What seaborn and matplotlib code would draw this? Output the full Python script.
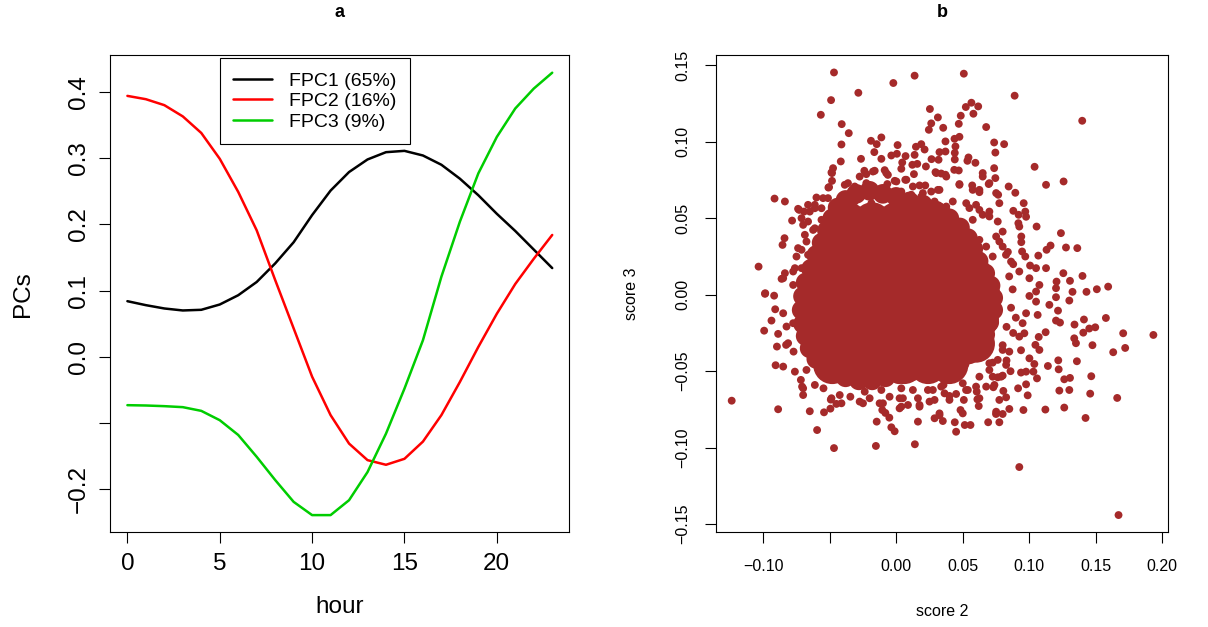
import matplotlib
matplotlib.use("Agg")
import matplotlib.pyplot as plt
import numpy as np
import pandas as pd
import seaborn as sns

# ---------------- data: panel a ----------------
hours = list(range(24))
fpc1 = [0.084, 0.078, 0.073, 0.070, 0.071, 0.079, 0.093, 0.113, 0.141, 0.173,
        0.214, 0.251, 0.279, 0.298, 0.309, 0.311, 0.304, 0.290, 0.269, 0.244,
        0.216, 0.190, 0.162, 0.134]
fpc2 = [0.394, 0.389, 0.380, 0.363, 0.338, 0.299, 0.249, 0.191, 0.116, 0.043,
        -0.030, -0.088, -0.131, -0.156, -0.163, -0.154, -0.128, -0.088, -0.038, 0.015,
        0.065, 0.110, 0.148, 0.184]
fpc3 = [-0.073, -0.0735, -0.0745, -0.076, -0.0816, -0.0957, -0.118, -0.151, -0.186, -0.219,
        -0.239, -0.239, -0.2165, -0.174, -0.116, -0.048, 0.025, 0.121, 0.204, 0.277,
        0.332, 0.375, 0.405, 0.429]
labels = ["FPC1 (65%)", "FPC2 (16%)", "FPC3 (9%)"]
colors = ["#000000", "#FF0000", "#00CD00"]
xticks_a = [0, 5, 10, 15, 20]
yticks_a = [-0.2, -0.1, 0.0, 0.1, 0.2, 0.3, 0.4]
yticklabels_a = ["\u22120.2", "", "0.0", "0.1", "0.2", "0.3", "0.4"]

# ---------------- data: panel b ----------------
# dense core of the point cloud (solid region, read as clusters)
core2 = [-0.036, -0.018, 0.0, 0.018, 0.030,
         -0.046, -0.028, -0.010, 0.008, 0.026, 0.046,
         -0.050, -0.032, -0.014, 0.004, 0.022, 0.040, 0.056,
         -0.060, -0.042, -0.024, -0.006, 0.012, 0.030, 0.048, 0.064,
         -0.061, -0.043, -0.025, -0.007, 0.011, 0.029, 0.047, 0.063,
         -0.057, -0.039, -0.021, -0.003, 0.015, 0.033, 0.050, 0.060,
         -0.048, -0.030, -0.012, 0.006, 0.024, 0.040]
core3 = [0.048, 0.048, 0.048, 0.048, 0.048,
         0.032, 0.032, 0.032, 0.032, 0.032, 0.032,
         0.016, 0.016, 0.016, 0.016, 0.016, 0.016, 0.016,
         0.0, 0.0, 0.0, 0.0, 0.0, 0.0, 0.0, 0.0,
         -0.016, -0.016, -0.016, -0.016, -0.016, -0.016, -0.016, -0.016,
         -0.032, -0.032, -0.032, -0.032, -0.032, -0.032, -0.032, -0.032,
         -0.046, -0.046, -0.046, -0.046, -0.046, -0.046]

# edge of the solid region
rim2 = [-0.030, -0.020, -0.010, 0.000, 0.010, 0.020, 0.030, 0.040,
        0.048, 0.054, 0.058, 0.062, 0.067, 0.071, 0.073, 0.073, 0.070, 0.067, 0.062, 0.055, 0.048,
        0.042, 0.032, 0.022, 0.012, 0.002, -0.008, -0.018, -0.028, -0.038, -0.046,
        -0.054, -0.060, -0.065, -0.068, -0.070, -0.071, -0.070, -0.068, -0.064, -0.060,
        -0.056, -0.052, -0.048, -0.044, -0.038]
rim3 = [0.066, 0.068, 0.066, 0.064, 0.061, 0.059, 0.055, 0.050,
        0.044, 0.037, 0.030, 0.022, 0.014, 0.006, -0.002, -0.010, -0.018, -0.026, -0.033, -0.039, -0.044,
        -0.046, -0.048, -0.049, -0.050, -0.052, -0.054, -0.056, -0.056, -0.054, -0.051,
        -0.047, -0.042, -0.035, -0.027, -0.019, -0.010, -0.001, 0.008, 0.017, 0.026,
        0.034, 0.042, 0.050, 0.057, 0.062]

# individual points around the core
score2 = [
    -0.0467, 0.0139, -0.0021, -0.0284, -0.0489, -0.0566, 0.0254, 0.0314, 0.0264, 0.0246,
    0.0354, -0.0409, -0.0356, -0.0411, -0.0416, -0.0189, -0.0111, -0.0146, -0.0164, 0.0011,
    -0.0111, -0.0264, -0.0036, 0.0006, 0.0071, 0.0149, 0.0189, 0.0214, 0.0139, 0.0159,
    0.0122, 0.0046, 0.0039, -0.0161, -0.0086, 0.0266, 0.0326, 0.0319, 0.0224, -0.0474,
    -0.0482, -0.0482, -0.0509, -0.0239, -0.0224, -0.0062, -0.0011, -0.0066, 0.0069, 0.0134,
    0.0176, 0.0219, 0.0296, 0.0339, 0.0314, -0.0914, -0.0836, -0.0737, -0.0782, -0.0839,
    -0.0854, -0.1034, -0.0984, -0.0917, -0.0599, -0.0611, -0.0692, -0.0662, -0.0749, -0.0761,
    -0.0836, -0.0861,
    -0.0386, -0.0311, -0.0224, -0.0137, -0.0062, 0.0039, 0.0114, 0.0189, 0.0264, -0.0512,
    -0.0411, -0.0311, -0.0186, -0.0011, 0.0139, 0.0289, -0.0561, -0.0662, -0.0711, -0.0611,
    -0.0686, -0.0737, -0.0662, -0.0711, -0.0686,
    0.0509, 0.0891, 0.1399, 0.0524, 0.0566, 0.0617, 0.0581, 0.0486, 0.0471, 0.0677,
    0.0439, 0.0476, 0.0446, 0.0441, 0.0441, 0.0371, 0.0371, 0.0737, 0.0812, 0.0746,
    0.0544, 0.0596, 0.0536, 0.0737, 0.0746, 0.0651, 0.0696, 0.1041, 0.1127, 0.1259,
    0.0437, 0.0471, 0.0371, 0.0476, 0.0572, 0.0626, 0.0576, 0.0767, 0.0846, 0.0896,
    0.0959, 0.0881, 0.0921, 0.0971, 0.0977, 0.0919, 0.0926, 0.1056, 0.1239, 0.1277,
    0.1362, 0.1161, 0.1131, 0.1069, 0.0941, 0.0941, 0.0947, 0.0971, 0.1007, 0.1052,
    0.1127, 0.1257, 0.1401, 0.1307, 0.1206, 0.1202, 0.1326, 0.1431, 0.1509, 0.1594,
    0.1002, 0.1077, 0.1052, 0.0926, 0.0864, 0.0826, 0.0776, 0.0801, 0.0764, 0.0701,
    0.0651, 0.0601, 0.0551,
    -0.1236, -0.0887, -0.0594, -0.0467, -0.0152, 0.0141, -0.0649, -0.0542, -0.0494, -0.0491,
    -0.0146, -0.0081, -0.0104, -0.0051, -0.0036, -0.0011, 0.0164, 0.0176, 0.0089, 0.0026,
    0.0051, 0.0164, 0.0289, 0.0326, 0.0351, -0.0986, -0.0909, -0.0937, -0.0992, -0.0887,
    -0.0896, -0.0827, -0.0906, -0.0849, -0.0771, -0.0761, -0.0716, -0.0707, -0.0699, -0.0611,
    -0.0546, -0.0424, -0.0344, -0.0411, -0.0449, -0.0249, -0.0199, -0.0099, 0.0039, 0.0239,
    0.0364, 0.0289, -0.0111, -0.0236, 0.0039,
    0.1672, 0.0926, 0.1934, 0.1707, 0.1722, 0.1632, 0.1662, 0.1577, 0.1476, 0.1497,
    0.1452, 0.1407, 0.1412, 0.1341, 0.1359, 0.1467, 0.1459, 0.1424, 0.1307, 0.1264,
    0.1302, 0.1227, 0.1264, 0.1122, 0.0957, 0.1219, 0.1222, 0.1141, 0.1077, 0.1047,
    0.1072, 0.1124, 0.1339, 0.1352, 0.1202, 0.1232, 0.1217, 0.1152, 0.1052, 0.1002,
    0.1202, 0.1302, 0.0939, 0.1002, 0.1039, 0.0939, 0.0977, 0.1032, 0.1059, 0.0977,
    0.0917, 0.0989, 0.0806, 0.0827, 0.0851, 0.0751, 0.0801, 0.0776, 0.0692, 0.0731,
    0.0801, 0.0606, 0.0621, 0.0611, 0.0484, 0.0509, 0.0451, 0.0441, 0.0451, 0.0516,
    0.0559, 0.0764, 0.0827, 0.0926, 0.0964, 0.0951, 0.0977, 0.1064, 0.0851, 0.0401,
    0.0356, 0.0401, 0.0501, 0.0601, 0.0526, 0.0626, 0.0701, 0.0726, 0.0876, 0.0864,
    0.0830, 0.0801,
    -0.0774, -0.0849, -0.0774, -0.0724, -0.0611, -0.0549, -0.0504, -0.0486, -0.0729, -0.0649,
    -0.0699, -0.0624, -0.0674, -0.0711, -0.0649, -0.0561, -0.0499, -0.0362, -0.0274, -0.0224,
    -0.0174,
    -0.0074, 0.0002, 0.0077, 0.0126, 0.0302, 0.0377, 0.0476, 0.0626, 0.0701, 0.0752,
    0.0651, 0.0426, 0.0527, 0.0626, 0.0701, 0.0776, 0.0576, 0.0752, 0.0677, 0.0626,
    0.0726, 0.0801, 0.0527, 0.0201, 0.0326, 0.0251, 0.0377,
    -0.0849, -0.0824, -0.0774, -0.0812, -0.0674, -0.0699, -0.0486, -0.0274,
    -0.0124, -0.0049, 0.0026, 0.0176, 0.0251, 0.0339, 0.0401, 0.0539, 0.0626, 0.0677,
    0.0739, 0.0726, 0.0789, 0.0701, 0.0764, 0.0801, 0.0776, 0.0501, 0.0752, 0.0326,
    0.0201, 0.0126, 0.0276,
    0.0850, 0.0880, 0.0840, 0.0900, 0.0880, 0.0830, 0.0860,
]
score3 = [
    0.1454, 0.1433, 0.1385, 0.1321, 0.1273, 0.1177, 0.1215, 0.1160, 0.1121, 0.1079,
    0.1092, 0.1116, 0.1057, 0.0983, 0.0872, 0.1007, 0.1029, 0.0985, 0.0933, 0.0979,
    0.0889, 0.0889, 0.0911, 0.0922, 0.0907, 0.0968, 0.0985, 0.0950, 0.0915, 0.0856,
    0.0850, 0.0865, 0.0824, 0.0811, 0.0815, 0.0887, 0.0933, 0.0883, 0.0839, 0.0828,
    0.0796, 0.0745, 0.0701, 0.0811, 0.0789, 0.0784, 0.0745, 0.0724, 0.0752, 0.0789,
    0.0715, 0.0715, 0.0802, 0.0793, 0.0686, 0.0629, 0.0610, 0.0562, 0.0485, 0.0370,
    0.0326, 0.0184, 0.0010, -0.0006, 0.0636, 0.0566, 0.0544, 0.0479, 0.0250, 0.0174,
    0.0141, 0.0104,
    0.0719, 0.0708, 0.0697, 0.0675, 0.0665, 0.0675, 0.0654, 0.0642, 0.0675, 0.0632,
    0.0610, 0.0610, 0.0599, 0.0610, 0.0599, 0.0610, 0.0566, 0.0588, 0.0501, 0.0435,
    0.0392, 0.0305, 0.0261, 0.0174, 0.0108,
    0.1446, 0.1302, 0.1138, 0.1228, 0.1256, 0.1232, 0.1184, 0.1171, 0.1118, 0.1097,
    0.1020, 0.1033, 0.0970, 0.0928, 0.0885, 0.1003, 0.0937, 0.0996, 0.0985, 0.0930,
    0.0898, 0.0863, 0.0876, 0.0828, 0.0763, 0.0773, 0.0724, 0.0837, 0.0719, 0.0741,
    0.0817, 0.0813, 0.0785, 0.0724, 0.0715, 0.0671, 0.0686, 0.0654, 0.0708, 0.0667,
    0.0599, 0.0549, 0.0523, 0.0544, 0.0510, 0.0468, 0.0446, 0.0446, 0.0403, 0.0309,
    0.0305, 0.0322, 0.0294, 0.0256, 0.0381, 0.0344, 0.0283, 0.0250, 0.0191, 0.0174,
    0.0174, 0.0141, 0.0123, 0.0091, 0.0086, 0.0043, 0.0019, 0.0019, 0.0036, 0.0053,
    0.0108, 0.0064, 0.0021, 0.0152, 0.0217, 0.0261, 0.0348, 0.0413, 0.0479, 0.0544,
    0.0523, 0.0588, 0.0567,
    -0.0693, -0.0749, -0.0885, -0.1003, -0.0989, -0.0978, -0.0762, -0.0769, -0.0745, -0.0686,
    -0.0830, -0.0773, -0.0754, -0.0804, -0.0867, -0.0893, -0.0830, -0.0732, -0.0721, -0.0743,
    -0.0677, -0.0677, -0.0808, -0.0788, -0.0826, 0.0006, -0.0095, -0.0169, -0.0235, -0.0256,
    -0.0339, -0.0328, -0.0461, -0.0470, -0.0372, -0.0503, -0.0557, -0.0601, -0.0656, -0.0590,
    -0.0612, -0.0656, -0.0667, -0.0710, -0.0714, -0.0710, -0.0677, -0.0710, -0.0732, -0.0623,
    -0.0645, -0.0688, -0.0623, -0.0634, -0.0612,
    -0.1441, -0.1127, -0.0263, -0.0252, -0.0348, -0.0376, -0.0675, -0.0152, -0.0330, -0.0213,
    -0.0221, -0.0248, -0.0162, -0.0195, -0.0435, -0.0533, -0.0647, -0.0806, -0.0544, -0.0553,
    -0.0623, -0.0627, -0.0738, -0.0751, -0.0754, -0.0429, -0.0488, -0.0466, -0.0361, -0.0328,
    -0.0276, -0.0245, -0.0285, -0.0317, -0.0169, -0.0182, -0.0104, -0.0066, -0.0045, -0.0008,
    -0.0016, -0.0038, -0.0363, -0.0416, -0.0453, -0.0509, -0.0503, -0.0503, -0.0547, -0.0586,
    -0.0612, -0.0658, -0.0629, -0.0671, -0.0747, -0.0780, -0.0780, -0.0834, -0.0834, -0.0605,
    -0.0529, -0.0634, -0.0728, -0.0684, -0.0754, -0.0688, -0.0649, -0.0834, -0.0896, -0.0852,
    -0.0852, -0.0540, -0.0459, -0.0274, -0.0252, -0.0186, -0.0121, -0.0132, -0.0372, -0.0531,
    -0.0590, -0.0662, -0.0579, -0.0601, -0.0623, -0.0536, -0.0492, -0.0444, 0.0035, -0.0085,
    -0.0210, -0.0330,
    0.0152, 0.0108, 0.0064, 0.0010, 0.0588, 0.0632, 0.0704, 0.0800, 0.0555, 0.0544,
    0.0457, 0.0424, 0.0348, 0.0294, 0.0184, 0.0490, 0.0523, 0.0730, 0.0773, 0.0730,
    0.0806,
    0.0796, 0.0741, 0.0752, 0.0708, 0.0796, 0.0773, 0.0719, 0.0686, 0.0730, 0.0665,
    0.0796, 0.0610, 0.0599, 0.0555, 0.0512, 0.0599, 0.0490, 0.0381, 0.0315, 0.0359,
    0.0250, 0.0315, 0.0359, 0.0665, 0.0686, 0.0577, 0.0577,
    -0.0121, -0.0208, -0.0186, -0.0317, -0.0492, -0.0612, -0.0677, -0.0699,
    -0.0710, -0.0667, -0.0677, -0.0721, -0.0699, -0.0601, -0.0688, -0.0623, -0.0677, -0.0601,
    -0.0590, -0.0536, -0.0536, -0.0448, -0.0426, -0.0361, -0.0688, -0.0776, -0.0765, -0.0776,
    -0.0514, -0.0623, -0.0623,
    0.0120, 0.0200, 0.0280, -0.0150, -0.0250, -0.0430, -0.0500,
]
xticks_b = [-0.10, -0.05, 0.00, 0.05, 0.10, 0.15, 0.20]
xticklabels_b = ["\u22120.10", "", "0.00", "0.05", "0.10", "0.15", "0.20"]
yticks_b = [-0.15, -0.10, -0.05, 0.00, 0.05, 0.10, 0.15]
yticklabels_b = ["\u22120.15", "\u22120.10", "\u22120.05", "0.00", "0.05", "0.10", "0.15"]
point_color = "#A52A2A"

# ---------------- style ----------------
sns.set_theme(style="ticks")
plt.rcParams["font.family"] = ["Liberation Sans", "DejaVu Sans"]
plt.rcParams.update({
    "axes.edgecolor": "black",
    "axes.linewidth": 0.8,
    "xtick.color": "black",
    "ytick.color": "black",
    "xtick.major.size": 8,
    "ytick.major.size": 8,
    "xtick.major.width": 0.8,
    "ytick.major.width": 0.8,
    "text.color": "black",
    "axes.labelcolor": "black",
})

fig = plt.figure(figsize=(12.08, 6.27), dpi=100)
ax1 = fig.add_axes([0.0914, 0.1510, 0.3798, 0.7605])
ax2 = fig.add_axes([0.5925, 0.1510, 0.3744, 0.7605])

# ---------------- panel a ----------------
df = pd.DataFrame({
    "hour": hours * 3,
    "value": fpc1 + fpc2 + fpc3,
    "component": [labels[0]] * 24 + [labels[1]] * 24 + [labels[2]] * 24,
})
sns.lineplot(data=df, x="hour", y="value", hue="component", hue_order=labels,
             palette=dict(zip(labels, colors)), linewidth=1.8, errorbar=None,
             ax=ax1, legend=True)
ax1.set_xlim(-0.92, 23.92)
ax1.set_ylim(-0.265, 0.455)
ax1.set_xticks(xticks_a)
ax1.set_xticklabels([str(t) for t in xticks_a])
ax1.set_yticks(yticks_a)
ax1.set_yticklabels(yticklabels_a, rotation=90, va="center")
ax1.tick_params(axis="x", labelsize=17.5, pad=7)
ax1.tick_params(axis="y", labelsize=17.5, pad=7)
ax1.set_xlabel("hour", fontsize=17.5, va="center")
ax1.set_ylabel("PCs", fontsize=17.5, va="center")
ax1.xaxis.set_label_coords(0.5, -0.157)
ax1.yaxis.set_label_coords(-0.19, 0.5)
ax1.set_title("a", fontsize=13, fontweight="bold", y=1.09, va="center", pad=0)
handles, lbls = ax1.get_legend_handles_labels()
leg = ax1.legend(handles, lbls, loc="upper left", bbox_to_anchor=(0.238, 0.994),
                 fontsize=14, frameon=True, fancybox=False, shadow=False,
                 edgecolor="black", framealpha=1, handlelength=2.0,
                 handletextpad=0.85, labelspacing=0.15, borderpad=0.7,
                 borderaxespad=0)
leg.get_frame().set_linewidth(0.8)
for ln in leg.get_lines():
    ln.set_linewidth(1.8)

# ---------------- panel b ----------------
sns.scatterplot(x=core2, y=core3, s=750, color=point_color, linewidth=0,
                edgecolor="none", ax=ax2, legend=False)
sns.scatterplot(x=rim2, y=rim3, s=200, color=point_color, linewidth=0,
                edgecolor="none", ax=ax2, legend=False)
sns.scatterplot(x=score2, y=score3, s=32, color=point_color, linewidth=0,
                edgecolor="none", ax=ax2, legend=False)
ax2.set_xlim(-0.1356, 0.2044)
ax2.set_ylim(-0.1554, 0.1565)
ax2.set_xticks(xticks_b)
ax2.set_xticklabels(xticklabels_b)
ax2.set_yticks(yticks_b)
ax2.set_yticklabels(yticklabels_b, rotation=90, va="center")
ax2.tick_params(axis="x", labelsize=11.5, pad=11)
ax2.tick_params(axis="y", labelsize=11.5, pad=10)
ax2.set_xlabel("score 2", fontsize=11.5, va="center")
ax2.set_ylabel("score 3", fontsize=11.5, va="center")
ax2.xaxis.set_label_coords(0.5, -0.165)
ax2.yaxis.set_label_coords(-0.187, 0.5)
ax2.set_title("b", fontsize=13, fontweight="bold", y=1.09, va="center", pad=0)

fig.savefig("out.png", dpi=100, facecolor="white")
